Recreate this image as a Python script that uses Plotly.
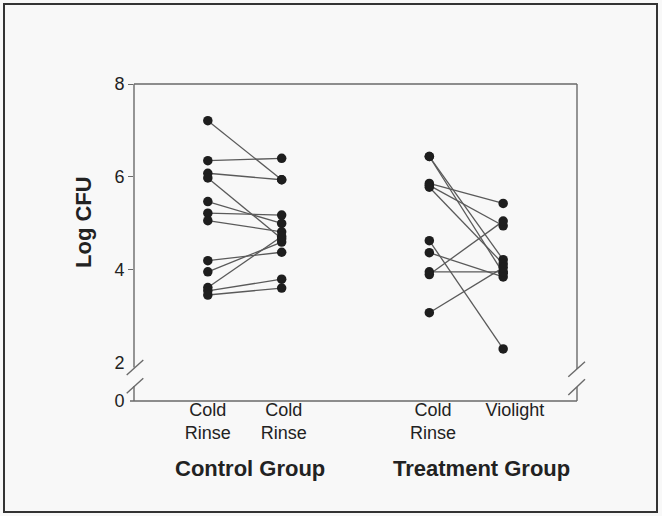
import plotly.graph_objects as go

# ---- data ----
control_pre = [7.21, 6.35, 6.08, 5.98, 5.47, 5.22, 5.06, 4.20, 3.96, 3.62, 3.55, 3.46]
control_post = [5.94, 6.40, 5.94, 4.67, 5.00, 5.18, 4.82, 4.38, 4.60, 4.72, 3.80, 3.61]
treat_pre = [6.44, 6.44, 5.86, 5.82, 5.78, 4.63, 4.37, 3.96, 3.90, 3.08]
treat_post = [4.22, 3.93, 5.43, 4.95, 4.13, 2.30, 3.85, 3.96, 5.05, 4.05]

category_labels = ["Cold<br>Rinse", "Cold<br>Rinse", "Cold<br>Rinse", "Violight"]
group_labels = ["Control Group", "Treatment Group"]
y_tick_vals = [4, 6, 8]
y_tick_text = ["4", "6", "8"]
y_break_tick_text = ["0", "2"]

W, H = 662, 516
L, R, T, B = 134, 577, 84, 401  # plot area in pixels

def px(xp):
    return (xp - L) / (R - L)

def py(yp):
    return (B - yp) / (B - T)

x_pos = [1, 2, 4, 5]
line_col = "#5a5a5a"
mark_col = "#1e1e1e"
axis_col = "#6a6a6a"

fig = go.Figure()

def pairs(pre, post, xa, xb):
    xs, ys = [], []
    for a, b in zip(pre, post):
        xs += [xa, xb, None]
        ys += [a, b, None]
    return xs, ys

groups = [(control_pre, control_post, x_pos[0], x_pos[1]),
          (treat_pre, treat_post, x_pos[2], x_pos[3])]
for pre, post, xa, xb in groups:
    xs, ys = pairs(pre, post, xa, xb)
    fig.add_trace(go.Scatter(x=xs, y=ys, mode="lines",
                             line=dict(color=line_col, width=1.3),
                             hoverinfo="skip", showlegend=False))
for pre, post, xa, xb in groups:
    fig.add_trace(go.Scatter(x=[xa] * len(pre) + [xb] * len(post), y=pre + post,
                             mode="markers",
                             marker=dict(color=mark_col, size=9.5, line=dict(width=0)),
                             showlegend=False))

y_bottom = 1.18
label_font = dict(family="Liberation Sans, Arial, sans-serif", size=18, color="#222")

fig.update_layout(
    width=W, height=H,
    margin=dict(l=L, r=W - R, t=T, b=H - B, pad=0),
    paper_bgcolor="#f8f8f8", plot_bgcolor="#f8f8f8",
    font=label_font,
    xaxis=dict(range=[0, 6], showgrid=False, zeroline=False, showline=False,
               tickvals=[1.0, 2.03, 4.05, 5.16], ticktext=category_labels,
               ticks="", ticklabelstandoff=-4,
               tickfont=label_font),
    yaxis=dict(range=[y_bottom, 8], showgrid=False, zeroline=False, showline=False,
               tickvals=y_tick_vals, ticktext=y_tick_text,
               ticks="outside", ticklen=5, tickcolor=axis_col, tickwidth=1.3,
               tickfont=label_font),
    yaxis2=dict(range=[y_bottom, 8], overlaying="y", side="left",
                showgrid=False, zeroline=False, showline=False,
                tickvals=[y_bottom, 2], ticktext=y_break_tick_text,
                ticks="outside", ticklen=5, tickcolor="rgba(0,0,0,0)",
                tickfont=label_font),
)
fig.add_trace(go.Scatter(x=[None], y=[None], yaxis="y2", showlegend=False))

shapes = []
lw = 1.4
def seg(x0, y0, x1, y1, color=axis_col, width=lw):
    shapes.append(dict(type="line", xref="paper", yref="paper",
                       x0=px(x0), y0=py(y0), x1=px(x1), y1=py(y1),
                       line=dict(color=color, width=width)))

# frame with axis breaks
seg(L, T, R, T)               # top
seg(130, B, R, B)             # bottom
seg(L, T, L, 367.5)           # left upper
seg(L, 386, L, B)             # left lower
seg(126.7, 375, 143.3, 360)   # left break slashes
seg(126.7, 393.3, 143.3, 378.3)
seg(R, T, R, 369)             # right upper
seg(R, 387, R, B)             # right lower
seg(568.3, 376.7, 585, 361.7) # right break slashes
seg(568.3, 395, 585, 379.3)

# outer border
shapes.append(dict(type="rect", xref="paper", yref="paper",
                   x0=px(4), y0=py(4), x1=px(657), y1=py(512),
                   line=dict(color="#333", width=2), fillcolor="rgba(0,0,0,0)"))
fig.update_layout(shapes=shapes)

bold = dict(family="Liberation Sans, Arial, sans-serif", size=22, color="#222")
fig.add_annotation(text="<b>Log CFU</b>", textangle=-90, xref="paper", yref="paper",
                   x=px(83), y=py(222), showarrow=False, font=bold,
                   xanchor="center", yanchor="middle")
fig.add_annotation(text="<b>%s</b>" % group_labels[0], xref="paper", yref="paper",
                   x=px(250), y=py(468), showarrow=False, font=bold,
                   xanchor="center", yanchor="middle")
fig.add_annotation(text="<b>%s</b>" % group_labels[1], xref="paper", yref="paper",
                   x=px(481), y=py(468), showarrow=False, font=bold,
                   xanchor="center", yanchor="middle")

fig.write_html("out.html",
               config={"displayModeBar": False},
               post_script="document.body.style.margin='0';document.body.style.overflow='hidden';")
